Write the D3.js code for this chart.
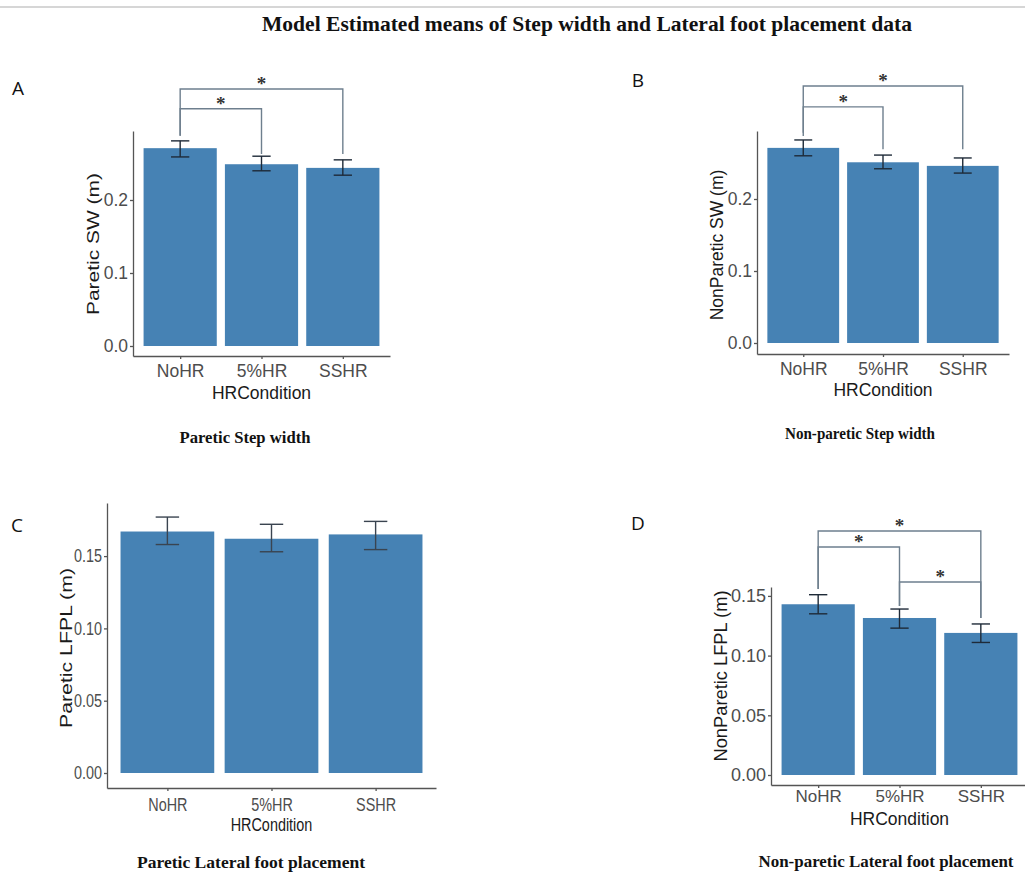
<!DOCTYPE html>
<html>
<head>
<meta charset="utf-8">
<script src="https://cdn.jsdelivr.net/npm/d3@7"></script>
<style>
    body { margin: 0; background: #fff; }
    .axis path, .axis line { stroke: #555; stroke-width: 1.3px; }
    .axis text { fill: #4d4d4d; font-family: "Liberation Sans", Arial, sans-serif; }
</style>
</head>
<body>
<div id="chart-area"></div>
<script>

// conditions on the x axis
const hrConditions = ["NoHR", "5%HR", "SSHR"];

// model estimated means + error bar ends
const pareticSW = [0.271, 0.249, 0.244];
const pareticSW_lo = [0.259, 0.240, 0.234];
const pareticSW_hi = [0.281, 0.260, 0.255];

const nonPareticSW = [0.271, 0.251, 0.246];
const nonPareticSW_lo = [0.260, 0.242, 0.236];
const nonPareticSW_hi = [0.282, 0.261, 0.257];

const pareticLFPL = [0.167, 0.162, 0.165];
const pareticLFPL_lo = [0.158, 0.153, 0.1545];
const pareticLFPL_hi = [0.177, 0.172, 0.174];

const nonPareticLFPL = [0.143, 0.1315, 0.119];
const nonPareticLFPL_lo = [0.135, 0.123, 0.111];
const nonPareticLFPL_hi = [0.151, 0.139, 0.1265];

// tick labels
const swTicks = [0, 0.1, 0.2];
const lfplTicks = [0, 0.05, 0.10, 0.15];

// significance brackets: [from, to, bar height, left leg end, right leg end] (data units)
const sigSWParetic = [[0, 2, 0.352, 0.288, 0.263], [0, 1, 0.325, 0.288, 0.263]];
const sigSWNonParetic = [[0, 2, 0.357, 0.2875, 0.269], [0, 1, 0.328, 0.292, 0.269]];
const sigLFPLNonParetic = [[0, 2, 0.2044, 0.1558, 0.1315], [0, 1, 0.191, 0.1558, 0.1415], [1, 2, 0.1616, 0.1415, 0.1315]];

const W = 1025, H = 874;

let svg = d3.select("#chart-area").append("svg")
    .attr("width", W)
    .attr("height", H);

// thin rule at the very top
svg.append("line")
    .attr("x1", 0).attr("x2", W)
    .attr("y1", 7).attr("y2", 7)
    .attr("stroke", "#c8c8c8").attr("stroke-width", 1.5);

svg.append("text")
    .attr("x", 262).attr("y", 31)
    .attr("textLength", 650).attr("lengthAdjust", "spacingAndGlyphs")
    .attr("font-family", "Liberation Serif, Times New Roman, serif")
    .attr("font-weight", "bold").attr("font-size", 21)
    .attr("fill", "#111")
    .text("Model Estimated means of Step width and Lateral foot placement data");

// no narrow font installed, so squeeze the glyphs instead
function squeeze(sel, k) {
    sel.each(function () {
        let w = this.getComputedTextLength();
        d3.select(this).attr("textLength", w * k).attr("lengthAdjust", "spacingAndGlyphs");
    });
}


class cPanel {

    constructor(_svg, _cfg) {
        this.svg = _svg;
        this.cfg = _cfg;
        this.initVis();
    }

    initVis() {
        let vis = this;
        let c = vis.cfg;

        vis.g = vis.svg.append("g");

        // y scale - pin zero and one tick step to the pixels, then stretch to the panel
        let tmp = d3.scaleLinear().domain([0, c.step]).range([c.zeroY, c.zeroY - c.stepPx]);
        vis.y = d3.scaleLinear()
            .domain([tmp.invert(c.bottom), tmp.invert(c.top)])
            .range([c.bottom, c.top]);

        vis.x = d3.scalePoint()
            .domain(hrConditions)
            .range([c.left, c.right])
            .padding(0.58);

        vis.barW = vis.x.step() * 0.9;

        vis.data = hrConditions.map((d, i) => ({ cond: d, mean: c.mean[i], lo: c.lo[i], hi: c.hi[i] }));

        // bars
        vis.g.selectAll(".bar")
            .data(vis.data)
            .enter().append("rect")
            .attr("class", "bar")
            .attr("x", d => vis.x(d.cond) - vis.barW / 2)
            .attr("width", vis.barW)
            .attr("y", d => vis.y(d.mean))
            .attr("height", d => vis.y(0) - vis.y(d.mean))
            .attr("fill", "#4682b4");

        // error bars
        let capW = vis.barW * 0.25;
        let eb = vis.g.selectAll(".err")
            .data(vis.data)
            .enter().append("g")
            .attr("class", "err")
            .attr("stroke", c.errColor)
            .attr("stroke-width", 1.4);
        eb.append("line")
            .attr("x1", d => vis.x(d.cond)).attr("x2", d => vis.x(d.cond))
            .attr("y1", d => vis.y(d.lo)).attr("y2", d => vis.y(d.hi));
        eb.append("line")
            .attr("x1", d => vis.x(d.cond) - capW / 2).attr("x2", d => vis.x(d.cond) + capW / 2)
            .attr("y1", d => vis.y(d.lo)).attr("y2", d => vis.y(d.lo));
        eb.append("line")
            .attr("x1", d => vis.x(d.cond) - capW / 2).attr("x2", d => vis.x(d.cond) + capW / 2)
            .attr("y1", d => vis.y(d.hi)).attr("y2", d => vis.y(d.hi));

        // axes
        vis.yAxis = d3.axisLeft(vis.y).tickValues(c.ticks).tickFormat(d3.format(c.fmt))
            .tickSizeInner(3).tickSizeOuter(0).tickPadding(2);
        vis.xAxis = d3.axisBottom(vis.x).tickSizeInner(3).tickSizeOuter(0).tickPadding(c.xPad);

        let ya = vis.g.append("g")
            .attr("class", "axis")
            .attr("transform", "translate(" + c.left + ",0)")
            .call(vis.yAxis);
        ya.selectAll("text").attr("font-size", c.tickSize);

        let xa = vis.g.append("g")
            .attr("class", "axis")
            .attr("transform", "translate(0," + c.bottom + ")")
            .call(vis.xAxis);
        xa.selectAll("text").attr("font-size", c.catSize || c.tickSize);

        if (c.narrow) {
            squeeze(ya.selectAll("text"), 0.8);
            squeeze(xa.selectAll("text"), 0.8);
        }

        // axis titles
        let yl = vis.g.append("text")
            .attr("transform", "translate(" + c.yLabX + "," + c.yLabY + ") rotate(-90)")
            .attr("text-anchor", "middle")
            .attr("dominant-baseline", "central")
            .attr("font-family", "Liberation Sans, Arial, sans-serif")
            .attr("font-size", c.yLabSize)
            .attr("fill", "#1a1a1a")
            .text(c.yLabel);
        if (c.yLabLen) yl.attr("textLength", c.yLabLen).attr("lengthAdjust", "spacingAndGlyphs");

        let xl = vis.g.append("text")
            .attr("x", (c.left + c.right) / 2)
            .attr("y", c.xLabY)
            .attr("text-anchor", "middle")
            .attr("font-family", "Liberation Sans, Arial, sans-serif")
            .attr("font-size", c.xLabSize)
            .attr("fill", "#1a1a1a")
            .text("HRCondition");
        if (c.narrow) squeeze(xl, 0.8);

        // significance brackets
        let br = vis.g.selectAll(".sig")
            .data(c.sig)
            .enter().append("g")
            .attr("class", "sig");
        br.append("path")
            .attr("fill", "none")
            .attr("stroke", "#6e7f8e")
            .attr("stroke-width", 1.4)
            .attr("d", d => {
                let x1 = vis.x(hrConditions[d[0]]), x2 = vis.x(hrConditions[d[1]]);
                return "M" + x1 + "," + vis.y(d[3]) + "V" + vis.y(d[2]) + "H" + x2 + "V" + vis.y(d[4]);
            });
        br.append("text")
            .attr("x", d => (vis.x(hrConditions[d[0]]) + vis.x(hrConditions[d[1]])) / 2)
            .attr("y", d => vis.y(d[2]) + 1)
            .attr("text-anchor", "middle")
            .attr("font-family", "Liberation Serif, serif")
            .attr("font-weight", "bold")
            .attr("font-size", 19)
            .attr("fill", "#333")
            .text("*");

        // panel letter
        vis.svg.append("text")
            .attr("x", c.letterX).attr("y", c.letterY)
            .attr("text-anchor", "middle")
            .attr("font-family", "Open Sans, sans-serif")
            .attr("font-size", 19)
            .attr("fill", "#111")
            .text(c.letter);

        // caption under the panel
        vis.svg.append("text")
            .attr("x", c.capX - c.capW / 2).attr("y", c.capY)
            .attr("textLength", c.capW).attr("lengthAdjust", "spacingAndGlyphs")
            .attr("font-family", "Liberation Serif, Times New Roman, serif")
            .attr("font-weight", "bold")
            .attr("font-size", 17)
            .attr("fill", "#111")
            .text(c.caption);
    }
}

new cPanel(svg, {
    mean: pareticSW, lo: pareticSW_lo, hi: pareticSW_hi, sig: sigSWParetic,
    ticks: swTicks, fmt: ".1f", step: 0.1,
    zeroY: 346, stepPx: 73, top: 131, bottom: 356, left: 133, right: 390,
    tickSize: 17.5, xPad: 6, errColor: "#1e2a38",
    yLabel: "Paretic SW (m)", yLabX: 93, yLabY: 244, yLabSize: 17, yLabLen: 142,
    xLabY: 399, xLabSize: 17.5,
    letter: "A", letterX: 18, letterY: 95,
    caption: "Paretic Step width", capX: 245, capY: 443, capW: 131
});

new cPanel(svg, {
    mean: nonPareticSW, lo: nonPareticSW_lo, hi: nonPareticSW_hi, sig: sigSWNonParetic,
    ticks: swTicks, fmt: ".1f", step: 0.1,
    zeroY: 343, stepPx: 72, top: 131, bottom: 354, left: 757, right: 1009,
    tickSize: 17.5, xPad: 6, errColor: "#1e2a38",
    yLabel: "NonParetic SW (m)", yLabX: 717, yLabY: 245, yLabSize: 17.5,
    xLabY: 396, xLabSize: 17.5,
    letter: "B", letterX: 638, letterY: 87,
    caption: "Non-paretic Step width", capX: 860, capY: 439, capW: 150
});

new cPanel(svg, {
    mean: pareticLFPL, lo: pareticLFPL_lo, hi: pareticLFPL_hi, sig: [],
    ticks: lfplTicks, fmt: ".2f", step: 0.05,
    zeroY: 773, stepPx: 72.3, top: 503, bottom: 788, left: 107, right: 436,
    tickSize: 18, xPad: 7, errColor: "#3a4450", narrow: true,
    yLabel: "Paretic LFPL (m)", yLabX: 66, yLabY: 648, yLabSize: 16.5, yLabLen: 160,
    xLabY: 831, xLabSize: 18,
    letter: "C", letterX: 17, letterY: 532,
    caption: "Paretic Lateral foot placement", capX: 251, capY: 868, capW: 228
});

new cPanel(svg, {
    mean: nonPareticLFPL, lo: nonPareticLFPL_lo, hi: nonPareticLFPL_hi, sig: sigLFPLNonParetic,
    ticks: lfplTicks, fmt: ".2f", step: 0.05,
    zeroY: 775, stepPx: 59.7, top: 587, bottom: 785, left: 771, right: 1028,
    tickSize: 18, catSize: 17, xPad: 2, errColor: "#1e2a38",
    yLabel: "NonParetic LFPL (m)", yLabX: 720, yLabY: 676, yLabSize: 18.3,
    xLabY: 825, xLabSize: 17.5,
    letter: "D", letterX: 638, letterY: 530,
    caption: "Non-paretic Lateral foot placement", capX: 886, capY: 867, capW: 255
});

</script>
</body>
</html>
